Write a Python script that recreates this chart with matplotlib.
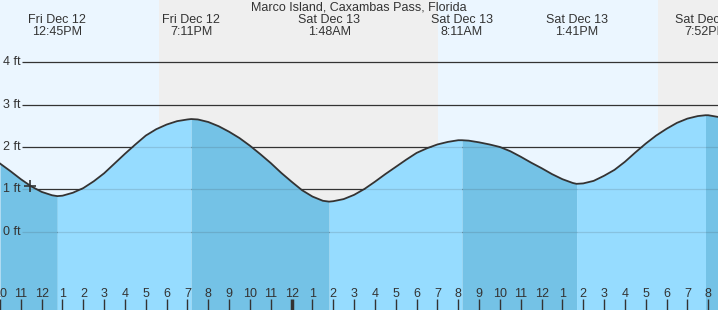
import numpy as np
import matplotlib
matplotlib.use("Agg")
import matplotlib.pyplot as plt
from matplotlib.transforms import blended_transform_factory

plt.rcParams['font.family'] = ['Liberation Sans', 'DejaVu Sans']

# Tide heights (ft), hours relative to midnight Sat Dec 13
hours = [-14, -13.5, -13, -12.5, -12, -11.5, -11.25, -11, -10.5, -10, -9.5, -9, -8.5, -8,
         -7.5, -7, -6.5, -6, -5.5, -5, -4.82, -4.5, -4, -3.5, -3, -2.5, -2, -1.5, -1,
         -0.5, 0, 0.5, 1, 1.5, 1.8, 2, 2.5, 3, 3.5, 4, 4.5, 5, 5.5, 6, 6.5, 7, 7.5, 8, 8.18,
         8.5, 9, 9.5, 10, 10.5, 11, 11.5, 12, 12.5, 13, 13.5, 13.68, 14, 14.5, 15, 15.5,
         16, 16.5, 17, 17.5, 18, 18.5, 19, 19.5, 19.87, 20, 20.47]
tide = [1.61, 1.43, 1.24, 1.07, 0.94, 0.86, 0.84, 0.85, 0.92, 1.03, 1.19, 1.38, 1.61, 1.84,
        2.06, 2.27, 2.42, 2.53, 2.61, 2.65, 2.66, 2.65, 2.59, 2.49, 2.36, 2.21, 2.03, 1.83, 1.62,
        1.39, 1.18, 0.98, 0.83, 0.73, 0.71, 0.72, 0.77, 0.87, 1.01, 1.18, 1.36, 1.53, 1.70, 1.86,
        1.97, 2.06, 2.12, 2.16, 2.16,
        2.15, 2.11, 2.06, 2.00, 1.90, 1.77, 1.63, 1.50, 1.36, 1.24, 1.15, 1.13, 1.14, 1.20, 1.32,
        1.46, 1.65, 1.87, 2.08, 2.27, 2.43, 2.57, 2.67, 2.73, 2.75, 2.75, 2.71]

# High / low events
extreme_hours = [-11.25, -4.82, 1.8, 8.18, 13.68, 19.87]
extreme_dates = ['Fri Dec 12', 'Fri Dec 12', 'Sat Dec 13', 'Sat Dec 13', 'Sat Dec 13', 'Sat Dec 13']
extreme_times = ['12:45PM', '7:11PM', '1:48AM', '8:11AM', '1:41PM', '7:52PM']

# night periods (sunset -> sunrise)
night_start = [-6.37, 17.58]
night_end = [7.05, 21]

now_hour = -12.56
now_level = 1.08

hour_ticks = list(range(-14, 21))
hour_labels = [str((h - 1) % 12 + 1) for h in hour_ticks]
ft_levels = [0, 1, 2, 3, 4]

x0, x1 = -14, 20.47
y0, y1 = -1.849, 5.471
dark = '#333333'

fig = plt.figure(figsize=(7.18, 3.10), dpi=100)
ax = fig.add_axes([0, 0, 1, 1])
ax.set_xlim(x0, x1)
ax.set_ylim(y0, y1)

# day / night background
ax.axvspan(x0, x1, color='#ebf6ff', zorder=0, lw=0)
for s, e in zip(night_start, night_end):
    ax.axvspan(s, e, color='#efefef', zorder=0.5, lw=0)

# grid lines
ax.hlines(ft_levels, -12.94, x1 + 1, color=dark, lw=0.9, zorder=1)
for lv in ft_levels:
    ax.text(-13.86, lv, f'{lv} ft', fontsize=9, color=dark, va='center', ha='left', zorder=6)

# water: rising = light, falling = darker
hrs = np.array(hours)
lv = np.array(tide)
edges = [x0] + extreme_hours + [x1]
for i in range(len(edges) - 1):
    m = (hrs >= edges[i]) & (hrs <= edges[i + 1])
    col = '#74c2e6' if i % 2 == 0 else '#96dcff'
    ax.fill_between(hrs[m], lv[m], y0 - 1, color=col, lw=0, zorder=2)

# faint grid lines inside the water
clip = ax.fill_between(hrs, lv, y0 - 1, color='none', lw=0)
inner = ax.hlines(ft_levels, -12.94, x1 + 1, color=dark, lw=0.9, alpha=0.15, zorder=3)
inner.set_clip_path(clip.get_paths()[0], ax.transData)

ax.plot(hours, tide, color=dark, lw=1.3, zorder=4, solid_joinstyle='round')
ax.plot(now_hour, now_level, marker='+', ms=9, mew=1.2, color=dark, zorder=5)

# event labels at top
tr = blended_transform_factory(ax.transData, ax.transAxes)
for h, d, t in zip(extreme_hours, extreme_dates, extreme_times):
    ax.text(h, 1 - 20 / 310, d, transform=tr, ha='center', va='center', fontsize=9, color=dark)
    ax.text(h, 1 - 32 / 310, t, transform=tr, ha='center', va='center', fontsize=9, color=dark)
ax.text(0.5, 1 - 8 / 310, 'Marco Island, Caxambas Pass, Florida', transform=ax.transAxes,
        ha='center', va='center', fontsize=9, color=dark)

# hour ticks
ax.set_xticks(hour_ticks)
ax.set_xticklabels(hour_labels)
ax.tick_params(axis='x', direction='in', length=8, width=1, pad=-15.5,
               labelsize=9, colors=dark)
ax.xaxis.get_major_ticks()[hour_ticks.index(0)].tick1line.set_markeredgewidth(2.5)
ax.xaxis.set_zorder(6)
ax.set_yticks([])
for sp in ax.spines.values():
    sp.set_visible(False)

fig.savefig('out.png', dpi=100)
